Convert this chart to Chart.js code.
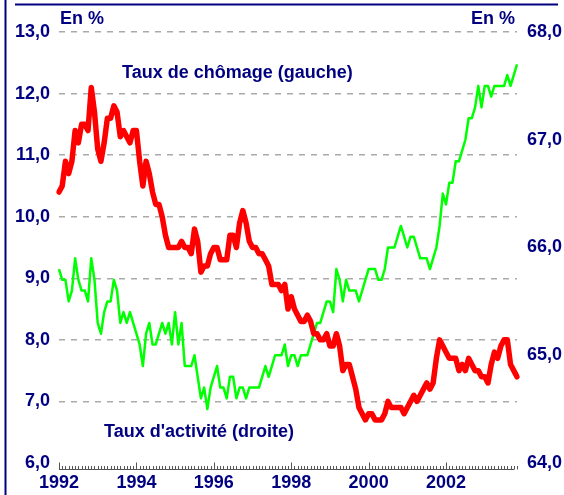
<!DOCTYPE html>
<html>
<head>
<meta charset="utf-8">
<script src="https://cdn.jsdelivr.net/npm/chart.js@4"></script>
<style>
  html, body { margin: 0; padding: 0; background: #fff; }
  #wrap { width: 564px; height: 495px; position: relative; }
</style>
</head>
<body>
<div id="wrap"><canvas id="graf"></canvas></div>
<script>
// taux de chomage (axe gauche), mensuel, janv. 1992 -> nov. 2003
const chomage = [
  10.4, 10.5, 10.9, 10.7, 10.9, 11.4, 11.2, 11.5, 11.5, 11.4, 12.1, 11.7,
  11.1, 10.9, 11.2, 11.6, 11.6, 11.8, 11.7, 11.3, 11.4, 11.3, 11.2, 11.4,
  11.4, 10.9, 10.5, 10.9, 10.7, 10.4, 10.2, 10.2, 10.0, 9.7, 9.5, 9.5,
  9.5, 9.5, 9.6, 9.5, 9.5, 9.4, 9.8, 9.6, 9.1, 9.2, 9.2, 9.4,
  9.5, 9.5, 9.3, 9.3, 9.3, 9.7, 9.7, 9.5, 9.9, 10.1, 9.9, 9.6,
  9.5, 9.5, 9.4, 9.4, 9.3, 9.2, 8.9, 8.9, 8.9, 8.8, 8.9, 8.5,
  8.7, 8.5, 8.4, 8.3, 8.3, 8.4, 8.3, 8.1, 8.1, 8.0, 8.0, 8.1,
  7.9, 7.9, 8.1, 7.9, 7.5, 7.6, 7.6, 7.4, 7.2, 6.9, 6.8, 6.7,
  6.8, 6.8, 6.7, 6.7, 6.7, 6.8, 7.0, 6.9, 6.9, 6.9, 6.9, 6.8,
  6.9, 7.0, 7.1, 7.0, 7.1, 7.2, 7.3, 7.2, 7.3, 7.7, 8.0, 7.9,
  7.8, 7.7, 7.7, 7.7, 7.5, 7.6, 7.5, 7.7, 7.6, 7.5, 7.5, 7.4,
  7.4, 7.3, 7.6, 7.8, 7.7, 7.9, 8.0, 8.0, 7.6, 7.5, 7.4
];

// taux d'activite (axe droit)
const activite = [
  65.8, 65.7, 65.7, 65.5, 65.6, 65.9, 65.7, 65.6, 65.6, 65.5, 65.9, 65.7,
  65.3, 65.2, 65.4, 65.5, 65.5, 65.7, 65.6, 65.3, 65.4, 65.3, 65.4, 65.3,
  65.2, 65.1, 64.9, 65.2, 65.3, 65.1, 65.1, 65.2, 65.3, 65.2, 65.3, 65.1,
  65.4, 65.1, 65.3, 64.9, 64.9, 64.9, 65.0, 64.8, 64.6, 64.7, 64.5, 64.7,
  64.8, 64.9, 64.7, 64.7, 64.6, 64.8, 64.8, 64.6, 64.7, 64.7, 64.6, 64.7,
  64.7, 64.7, 64.7, 64.8, 64.9, 64.8, 64.9, 65.0, 65.0, 65.0, 65.1, 64.9,
  65.0, 65.0, 64.9, 65.0, 65.0, 65.0, 65.1, 65.2, 65.3, 65.3, 65.4, 65.5,
  65.5, 65.4, 65.8, 65.7, 65.5, 65.7, 65.6, 65.6, 65.6, 65.5, 65.6, 65.7,
  65.8, 65.8, 65.8, 65.7, 65.7, 65.8, 66.0, 66.0, 66.0, 66.1, 66.2, 66.1,
  66.0, 66.1, 66.1, 66.0, 65.9, 65.9, 65.9, 65.8, 65.9, 66.0, 66.2, 66.5,
  66.4, 66.6, 66.6, 66.8, 66.8, 66.9, 67.0, 67.2, 67.2, 67.3, 67.5, 67.3,
  67.5, 67.5, 67.4, 67.5, 67.5, 67.5, 67.5, 67.6, 67.5, 67.6, 67.7
];

const anneeDebut = 1992;
const anneesAffichees = ['1992', '1994', '1996', '1998', '2000', '2002'];

// un libelle par mois
const mois = chomage.map((_, i) => {
  const a = anneeDebut + Math.floor(i / 12);
  const m = (i % 12) + 1;
  return a + '-' + (m < 10 ? '0' + m : m);
});

const marine = '#000080';
const police = 'Liberation Sans, Arial, sans-serif';

// cadre, graduations de l'axe des x et textes
const decor = {
  id: 'decor',
  afterDraw(chart) {
    const ctx = chart.ctx;
    const x = chart.scales.x;
    const bas = chart.chartArea.bottom;
    ctx.save();

    // cadre bleu (bord gauche et trait du haut)
    ctx.strokeStyle = marine;
    ctx.lineWidth = 2;
    ctx.beginPath();
    ctx.moveTo(5.5, 0);
    ctx.lineTo(5.5, 495);
    ctx.moveTo(15, 4.5);
    ctx.lineTo(558, 4.5);
    ctx.stroke();

    // axe des x avec petites graduations vers le haut
    const yAxe = bas + 6.5;
    ctx.strokeStyle = '#555';
    ctx.lineWidth = 1;
    ctx.beginPath();
    ctx.moveTo(x.getPixelForTick(0), yAxe);
    ctx.lineTo(x.getPixelForTick(mois.length - 1) - 3, yAxe);
    for (let i = 0; i < mois.length; i++) {
      const px = Math.round(x.getPixelForTick(i)) + 0.5;
      const h = (i % 24 === 0) ? 7 : 3.5;
      ctx.moveTo(px, yAxe);
      ctx.lineTo(px, yAxe - h);
    }
    ctx.stroke();

    // textes
    ctx.fillStyle = marine;
    ctx.font = 'bold 18px ' + police;
    ctx.textBaseline = 'middle';
    ctx.textAlign = 'left';
    ctx.fillText('En %', 60, 19);
    ctx.textAlign = 'right';
    ctx.fillText('En %', 515, 19);

    ctx.textAlign = 'left';
    ctx.fillText('Taux de chômage (gauche)', 122, 73);
    ctx.fillText("Taux d'activité (droite)", 104, 432);
    ctx.restore();
  }
};

const fmt = v => v.toFixed(1).replace('.', ',');

new Chart(document.getElementById('graf'), {
  type: 'line',
  data: {
    labels: mois,
    datasets: [
      {
        label: 'Taux de chômage (gauche)',
        data: chomage,
        yAxisID: 'yG',
        borderColor: '#ff0000',
        borderWidth: 5.5,
        borderJoinStyle: 'round',
        borderCapStyle: 'round',
        pointRadius: 0,
        tension: 0
      },
      {
        label: "Taux d'activité (droite)",
        data: activite,
        yAxisID: 'yD',
        borderColor: '#00ff00',
        borderWidth: 2.5,
        borderJoinStyle: 'round',
        pointRadius: 0,
        tension: 0
      }
    ]
  },
  options: {
    responsive: true,
    maintainAspectRatio: false,
    animation: false,
    events: [],
    layout: { padding: { top: 32, left: 0, right: 0, bottom: 0 } },
    plugins: {
      legend: { display: false },
      tooltip: { enabled: false }
    },
    scales: {
      x: {
        type: 'category',
        offset: false,
        grid: { display: false, drawTicks: false },
        border: { display: false },
        afterFit: s => { s.height = 32; },
        ticks: {
          autoSkip: false,
          maxRotation: 0,
          padding: 9,
          color: marine,
          font: { family: police, size: 18, weight: 'bold' },
          callback: (v, i) => {
            const lab = String(anneeDebut + Math.floor(i / 12));
            return (i % 12 === 0 && anneesAffichees.includes(lab)) ? lab : '';
          }
        }
      },
      yG: {
        position: 'left',
        min: 6, max: 13,
        afterFit: s => { s.width = 59; },
        // pointilles gris de la grille
        border: { display: false, dash: [6, 6] },
        grid: {
          drawTicks: false,
          color: c => c.tick.value === 6 ? 'rgba(0,0,0,0)' : '#aaaaaa',
          lineWidth: 1.5
        },
        ticks: {
          stepSize: 1,
          padding: 9,
          color: marine,
          font: { family: police, size: 18, weight: 'bold' },
          callback: v => fmt(v)
        }
      },
      yD: {
        position: 'right',
        min: 64, max: 68,
        afterFit: s => { s.width = 47; },
        border: { display: false },
        grid: { display: false, drawTicks: false },
        ticks: {
          stepSize: 1,
          padding: 10,
          color: marine,
          font: { family: police, size: 18, weight: 'bold' },
          callback: v => fmt(v)
        }
      }
    }
  },
  plugins: [decor]
});
</script>
</body>
</html>
